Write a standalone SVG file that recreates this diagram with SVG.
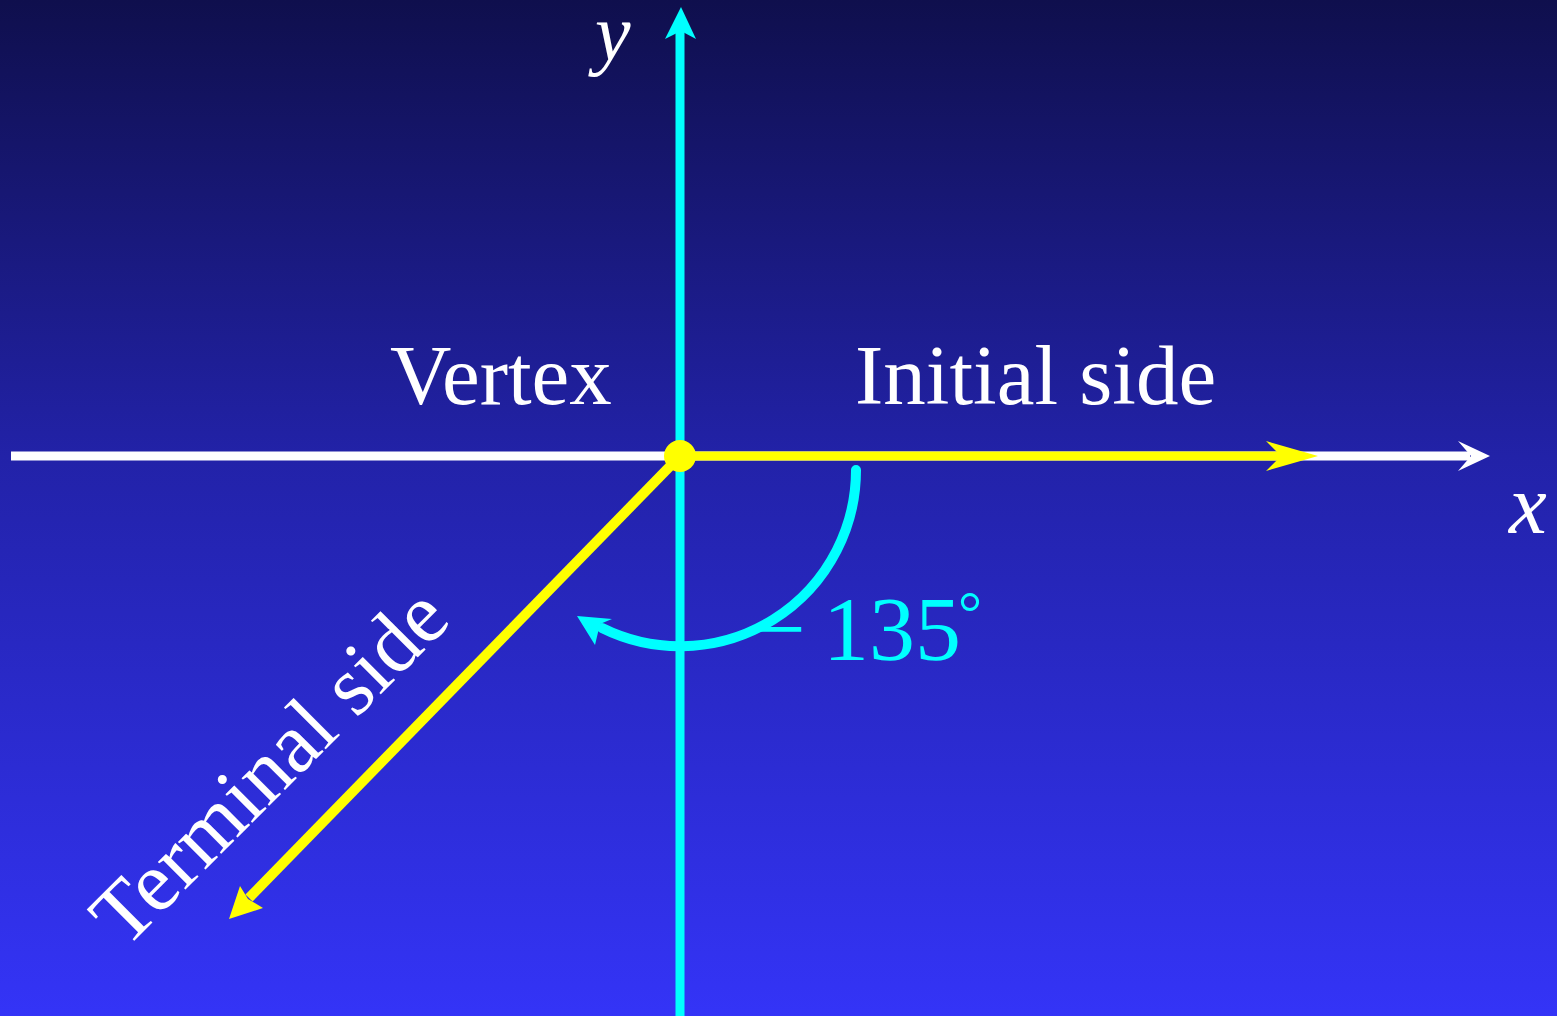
<svg xmlns="http://www.w3.org/2000/svg" width="1557" height="1016" viewBox="0 0 1557 1016">
  <defs>
    <linearGradient id="bg" x1="0" y1="0" x2="0" y2="1">
      <stop offset="0" stop-color="#0F0F4D"/>
      <stop offset="0.45" stop-color="#2222A8"/>
      <stop offset="1" stop-color="#3434F7"/>
    </linearGradient>
  </defs>
  <style>
    .lbl { font-family: "Liberation Serif", "Times New Roman", serif; font-size: 85px; fill: #FFFFFF; }
    .it { font-style: italic; }
    .cy { fill: #00FFFF; }
  </style>
  <rect x="0" y="0" width="1557" height="1016" fill="url(#bg)"/>

  <g id="connectors">
    <g id="x-axis">
      <line x1="11" y1="456" x2="1470" y2="456" stroke="#FFFFFF" stroke-width="9"/>
      <path d="M1490 456 L1458 441 L1471 456 L1458 471 Z" fill="#FFFFFF"/>
    </g>
    <g id="y-axis">
      <line x1="680" y1="1016" x2="680" y2="30" stroke="#00FFFF" stroke-width="9"/>
      <path d="M681 7 L665 39 L681 31 L696 39 Z" fill="#00FFFF"/>
    </g>
    <g id="initial-side">
      <line x1="680" y1="456" x2="1285" y2="456" stroke="#FFFF00" stroke-width="9"/>
      <path d="M1318 456 L1266 441 L1281 456 L1266 471 Z" fill="#FFFF00"/>
    </g>
    <g id="terminal-side">
      <line x1="680" y1="456" x2="249" y2="898" stroke="#FFFF00" stroke-width="10"/>
      <path d="M229 919 L240 886 L248 899 L263 908 Z" fill="#FFFF00"/>
    </g>
    <g id="angle-arc">
      <path d="M856 470 A176 176 0 0 1 602 628" fill="none" stroke="#00FFFF" stroke-width="10" stroke-linecap="round"/>
      <path d="M577 616 L612 619 L600 624 L595 645 Z" fill="#00FFFF"/>
    </g>
  </g>

  <g id="vertex">
    <circle cx="680" cy="456" r="16" fill="#FFFF00"/>
  </g>

  <g id="labels">
    <text class="lbl" x="390" y="404">Vertex</text>
    <text class="lbl" x="855" y="404">Initial side</text>
    <text class="lbl it" x="595" y="60" style="font-size:80px">y</text>
    <text class="lbl it" x="1509" y="533">x</text>
    <text class="lbl" transform="translate(125 950) rotate(-45)">Terminal side</text>
    <text class="lbl cy" style="font-size:92px"><tspan x="754" y="660">−</tspan><tspan x="823" y="660">135</tspan></text>
    <text class="lbl cy" x="958" y="633" style="font-size:60px">°</text>
  </g>
</svg>
